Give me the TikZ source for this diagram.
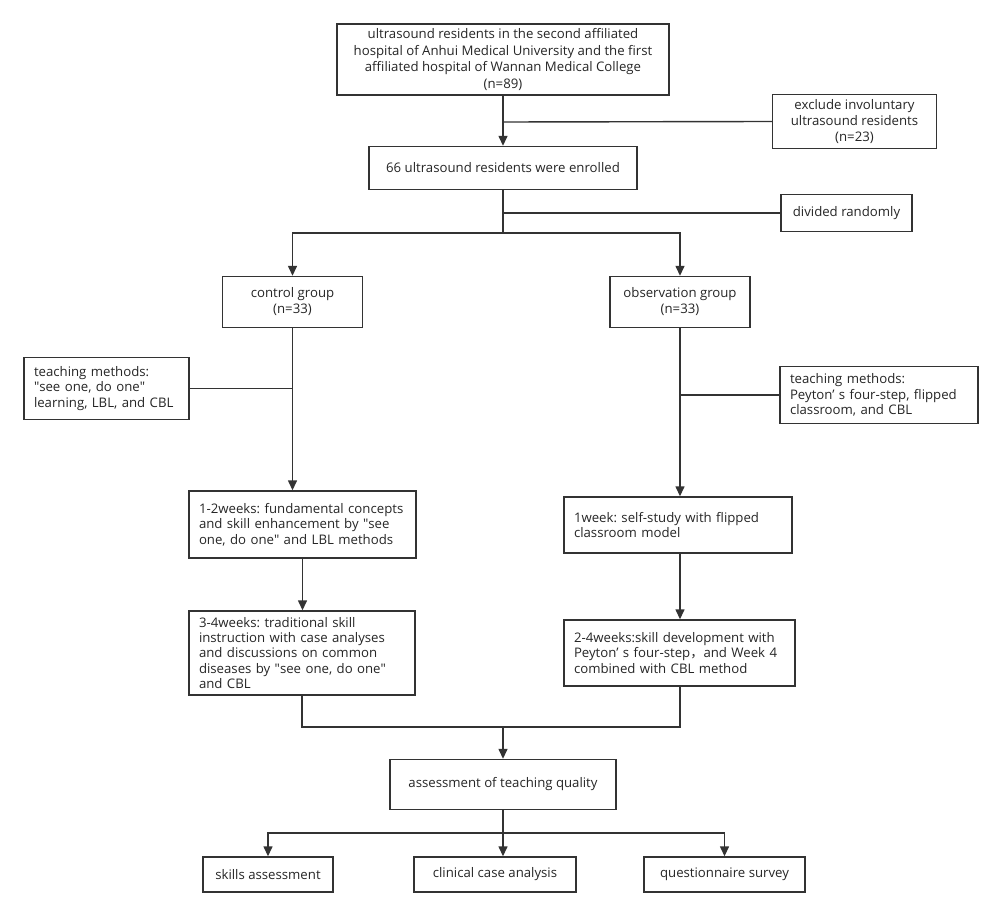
\documentclass[tikz,border=0pt]{standalone}
\usepackage{fontspec}
\setmainfont{Open Sans}
\newfontfamily\cjk{Noto Sans CJK SC}
\usetikzlibrary{arrows.meta}
\definecolor{linec}{HTML}{333333}
\definecolor{textc}{HTML}{262626}
\frenchspacing
\begin{document}
\begin{tikzpicture}[x=1pt,y=-1pt,
  box/.style={draw=linec, line width=1.4pt, fill=white, inner sep=0pt, text=textc,
    font=\fontsize{13.2}{16}\selectfont, align=center},
  lbox/.style={box, align=left, font=\fontsize{13.2}{15.3}\selectfont, inner xsep=10pt},
  conn/.style={draw=linec, line width=1.4pt},
  arr/.style={conn, -{Triangle[length=10pt,width=9pt]}}]
\useasboundingbox[fill=white] (0,0) rectangle (1001,917);

\node[box, minimum width=332pt, minimum height=71pt, font=\fontsize{13.2}{16.8}\selectfont] (top) at (503,59.5)
  {ultrasound residents in the second affiliated\\hospital of Anhui Medical University and the first\\affiliated hospital of Wannan Medical College\\(n=89)};
\node[box, minimum width=164pt, minimum height=54pt] (excl) at (854.5,121.5)
  {exclude involuntary\\ultrasound residents\\(n=23)};
\node[box, minimum width=268pt, minimum height=43pt] (enrolled) at (503,168)
  {66 ultrasound residents were enrolled};
\node[box, minimum width=131pt, minimum height=37pt] (div) at (846.5,213)
  {divided randomly};
\node[box, minimum width=140pt, minimum height=51pt] (control) at (292.5,302)
  {control group\\(n=33)};
\node[box, minimum width=140pt, minimum height=51pt] (obs) at (680,302)
  {observation group\\(n=33)};
\node[lbox, minimum width=165pt, minimum height=62pt, text width=145pt] (tl) at (106.5,388.3)
  {teaching methods:\\\textquotedbl see one, do one\textquotedbl\\learning, LBL, and CBL};
\node[lbox, minimum width=198pt, minimum height=57pt, text width=178pt] (tr) at (879,395)
  {teaching methods:\\Peyton’\ s four-step, flipped\\classroom, and CBL};
\node[lbox, minimum width=227pt, minimum height=67pt, text width=207pt] (w12) at (302.5,524.5)
  {1-2weeks: fundamental concepts\\and skill enhancement by \textquotedbl see\\one, do one\textquotedbl\ and LBL methods};
\node[lbox, minimum width=226pt, minimum height=84pt, text width=206pt] (w34) at (302,653)
  {3-4weeks: traditional skill\\instruction with case analyses\\and discussions on common\\diseases by \textquotedbl see one, do one\textquotedbl\\and CBL};
\node[lbox, minimum width=228pt, minimum height=56pt, text width=208pt] (w1) at (678,525)
  {1week: self-study with flipped\\classroom model};
\node[lbox, minimum width=231pt, minimum height=66pt, text width=211pt] (w24) at (679.5,653)
  {2-4weeks:skill development with\\Peyton’\ s four-step{\cjk ，}and Week 4\\combined with CBL method};
\node[box, minimum width=226pt, minimum height=50pt] (assess) at (503,784.5)
  {assessment of teaching quality};
\node[box, minimum width=130pt, minimum height=35pt] (skills) at (268,874.5)
  {skills assessment};
\node[box, minimum width=162pt, minimum height=35pt] (clin) at (495,874.5)
  {clinical case analysis};
\node[box, minimum width=161pt, minimum height=35pt] (quest) at (724.5,874.5)
  {questionnaire survey};

\coordinate (j1) at (503,122);
\coordinate (j2) at (503,233);
\coordinate (j3) at (503,213);
\coordinate (j4) at (503,727);
\coordinate (j5) at (503,833);

\draw[arr] (top.south) -- (enrolled.north);
\draw[conn] (excl.west) -- (j1);
\draw[conn] (enrolled.south) -- (j2);
\draw[conn] (div.west) -- (j3);
\draw[arr] (j2) -| (control.north);
\draw[arr] (j2) -| (obs.north);
\draw[arr] (control.south) -- (control.south |- w12.north);
\draw[conn] (tl.east) -- (tl.east -| control.south);
\draw[arr] (obs.south) -- (obs.south |- w1.north);
\draw[conn] (tr.west) -- (tr.west -| obs.south);
\draw[arr] (w12.south) -- (w12.south |- w34.north);
\draw[arr] (obs.south |- w1.south) -- (obs.south |- w24.north);
\draw[conn] (w34.south) |- (j4);
\draw[conn] (obs.south |- w24.south) |- (j4);
\draw[arr] (j4) -- (assess.north);
\draw[conn] (assess.south) -- (j5);
\draw[arr] (j5) -| (skills.north);
\draw[arr] (j5) -- (j5 |- clin.north);
\draw[arr] (j5) -| (quest.north);
\end{tikzpicture}
\end{document}
